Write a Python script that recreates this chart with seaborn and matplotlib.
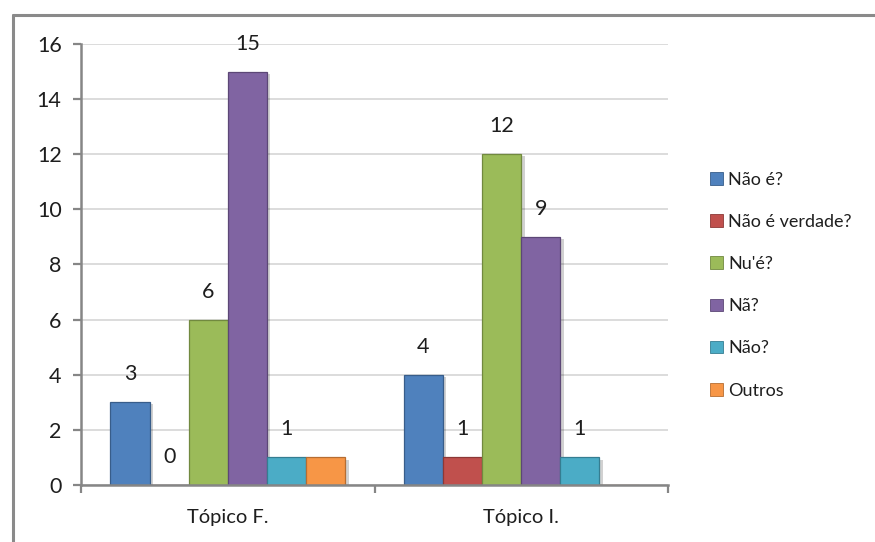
import matplotlib
matplotlib.use("Agg")
import matplotlib.pyplot as plt
import matplotlib.patheffects as pe
from matplotlib.lines import Line2D
import seaborn as sns
import pandas as pd

categories = ["Tópico F.", "Tópico I."]
series = ["Não é?", "Não é verdade?", "Nu'é?", "Nã?", "Não?", "Outros"]
topico_f = [3, 0, 6, 15, 1, 1]
topico_i = [4, 1, 12, 9, 1, 0]
colors = ["#4F81BD", "#C0504D", "#9BBB59", "#8064A2", "#4BACC6", "#F79646"]
edges = ["#385D8A", "#8C3836", "#71893F", "#5C4776", "#357D91", "#B66D31"]
labeled_series = ["Não é?", "Não é verdade?", "Nu'é?", "Nã?", "Não?"]
y_ticks = [0, 2, 4, 6, 8, 10, 12, 14, 16]

rows = []
for cat, vals in zip(categories, [topico_f, topico_i]):
    for s, v in zip(series, vals):
        rows.append({"categoria": cat, "serie": s, "valor": v})
df = pd.DataFrame(rows)

sns.set_theme(style="white")
plt.rcParams["font.family"] = ["Lato", "DejaVu Sans"]

fig = plt.figure(figsize=(8.75, 5.42), dpi=100)
ax = fig.add_axes([0.0926, 0.1052, 0.6708, 0.8136])

sns.barplot(data=df, x="categoria", y="valor", hue="serie", order=categories,
            hue_order=series, palette=colors, width=0.8, ax=ax, legend=True,
            errorbar=None, saturation=1)

grey = "#868686"
text_color = "#1E1E1E"
for s_idx, container in enumerate(ax.containers):
    for bar in container:
        bar.set_edgecolor(edges[s_idx])
        bar.set_linewidth(0.9)
        bar.set_path_effects([pe.SimplePatchShadow(offset=(2.5, -1.5), shadow_rgbFace="#000000", alpha=0.18),
                              pe.Normal()])
    if series[s_idx] in labeled_series:
        vals = [topico_f[s_idx], topico_i[s_idx]]
        for bar, v in zip(container, vals):
            ax.annotate(f"{v}", (bar.get_x() + bar.get_width() / 2, v),
                        xytext=(0, 13), textcoords="offset points",
                        ha="center", va="bottom", fontsize=15.5, color=text_color)

ax.set_xlim(-0.5, 1.5)
ax.set_ylim(0, 16)
ax.set_yticks(y_ticks)
ax.set_yticklabels([str(t) for t in y_ticks], fontsize=15.5, color=text_color)
ax.yaxis.grid(True, color="#D9D9D9", linewidth=1.3)
ax.set_axisbelow(True)
ax.set_xlabel("")
ax.set_ylabel("")

# Category labels centred, tick marks at category boundaries
ax.set_xticks([0, 1])
ax.set_xticklabels(categories, fontsize=14.5, color=text_color)
ax.tick_params(axis="x", length=0, pad=17)
ax.set_xticks([-0.5, 0.5, 1.5], minor=True)
ax.tick_params(axis="x", which="minor", length=6, width=1.6, color=grey, direction="out", bottom=True)
ax.tick_params(axis="y", length=6, width=1.6, color=grey, direction="out", left=True, pad=8)

for side in ["top", "right"]:
    ax.spines[side].set_visible(False)
for side in ["left", "bottom"]:
    ax.spines[side].set_color(grey)
    ax.spines[side].set_linewidth(1.8)

leg = ax.legend(loc="center left", bbox_to_anchor=(1.06, 0.453), frameon=False,
                fontsize=13, handlelength=0.7, handleheight=0.7,
                handletextpad=0.3, labelspacing=1.45, borderaxespad=0)
for h, c in zip(leg.legend_handles, edges):
    h.set_edgecolor(c)
    h.set_linewidth(0.6)
    h.set_path_effects([])
for t in leg.get_texts():
    t.set_color(text_color)

# Outer chart border (top and left edges)
fig.add_artist(Line2D([0.0145, 1.0], [0.972, 0.972], transform=fig.transFigure,
                      color="#8A8A8A", linewidth=2.2))
fig.add_artist(Line2D([0.0145, 0.0145], [0.0, 0.972], transform=fig.transFigure,
                      color="#8A8A8A", linewidth=2.2))

fig.savefig("out.png", dpi=100)
